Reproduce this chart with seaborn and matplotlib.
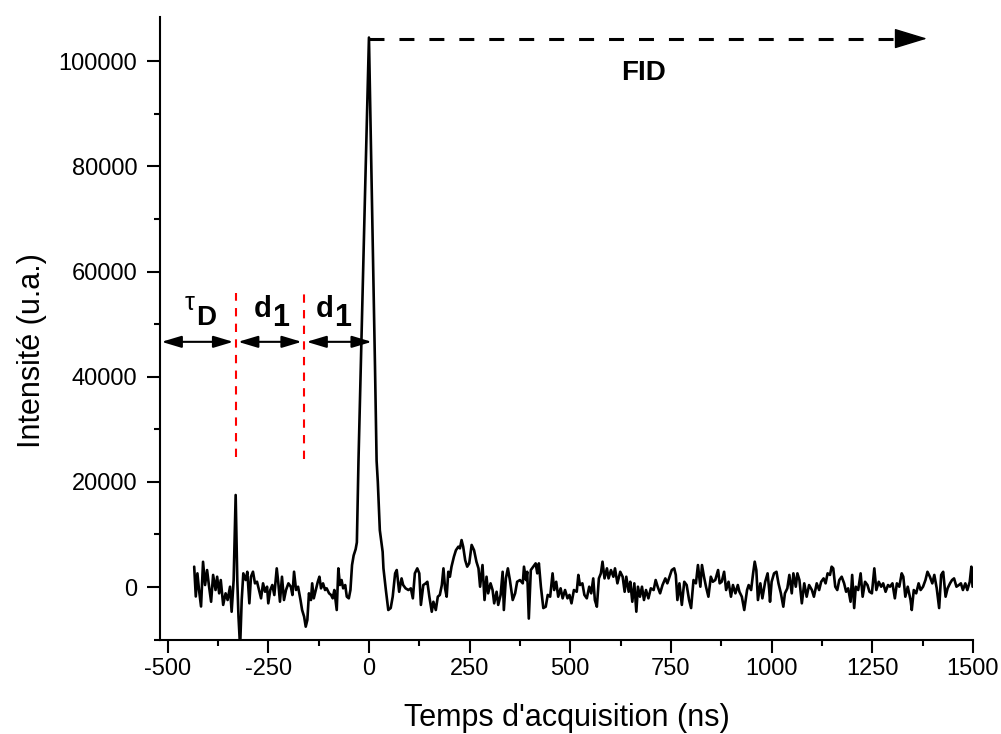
import matplotlib
matplotlib.use("Agg")
import matplotlib.pyplot as plt
from matplotlib.ticker import MultipleLocator
import numpy as np
import pandas as pd
import seaborn as sns

# ---------------- data ----------------
time_ns = [
    -434, -430, -426, -422, -417, -412, -407, -402, -397, -392, -387, -381, -377, -372, -368,
    -362, -356, -351, -345, -341, -336, -331, -327, -324, -320, -316, -312, -306, -302, -297,
    -293, -288, -283, -278, -273, -268, -263, -258, -253, -250, -245, -240, -235, -229, -225,
    -221, -216, -211, -206, -200, -194, -190, -186, -181, -176, -170, -166, -161, -157, -153,
    -149, -144, -141, -137, -132, -127, -123, -119, -114, -109, -105, -99, -94, -90, -86,
    -80, -76, -72, -68, -64, -59, -55, -50, -46, -42, -38, -33, -30, -26, -20,
    -15, -10, -5, 0, 5, 10, 15, 19, 22, 27,
    34, 36, 42, 48, 54, 59, 65, 69, 75, 81, 85, 91, 98, 104, 109,
    114, 120, 125, 129, 135, 141, 145, 150, 156, 160, 166, 171, 176, 181, 185,
    189, 193, 197, 201, 205, 211, 216, 222, 226, 230, 234, 239, 244, 249, 255,
    261, 267, 272, 276, 282, 287, 292, 296, 302, 307, 311, 317, 321, 327, 332,
    335, 340, 345, 350, 357, 363, 368, 375, 382, 385, 390, 393, 397, 402, 408,
    414, 418, 422, 427, 433, 439, 444, 450, 456, 460, 465, 470, 476, 481, 487,
    493, 498,
    503, 509, 516, 520, 524, 530, 535, 541, 547, 552, 557, 561, 566, 571, 576,
    580, 585, 591, 595, 601, 607, 611, 617, 624, 630, 635, 639, 645, 649, 654,
    659, 664, 668, 673, 678, 683, 688, 694, 700, 707, 712, 717, 723, 729, 736,
    741, 748, 752, 758, 762, 766, 771, 777, 783, 789, 795, 800, 806, 812, 817,
    823, 827, 832, 837, 843, 849, 854, 860, 867, 871, 876, 882, 887, 893, 899,
    904, 910, 916, 920, 926, 932, 939, 943, 949, 954, 958, 962, 966, 972, 977,
    984, 990, 994,
    996, 1000, 1006, 1012, 1017, 1023, 1029, 1033, 1039, 1044, 1050, 1054, 1060, 1064, 1069,
    1075, 1081, 1087, 1093, 1100, 1105, 1112, 1118, 1123, 1129, 1134, 1139, 1145, 1149, 1153,
    1158, 1163, 1168, 1174, 1180, 1185, 1190, 1196, 1200, 1205, 1209, 1215, 1221, 1226, 1232,
    1238, 1243, 1249, 1255, 1260, 1266, 1272, 1277, 1283, 1289, 1294, 1300, 1306, 1311, 1317,
    1323, 1327, 1332, 1338, 1345, 1348, 1353, 1359, 1365, 1370, 1376, 1382, 1387, 1393, 1399,
    1404, 1410, 1416, 1421, 1426, 1432, 1437, 1443, 1448, 1453, 1459, 1465, 1470, 1475, 1481,
    1486, 1492, 1496, 1499,
]
intensity = [
    3870, -1800, 2600, -570, -3700, 4800, 380, 3230, 60, -2800, 2300, -570, 1960, -1200, 1330,
    -3400, -1200, -2470, 60, -4700, 1330, 17500, 1330, -5600, -11500, -2470, 2600, 1330, 2900, -3100,
    1960, 2910, 700, 1010, -570, -2150, 700, -890, 60, -3100, -570, 380, -1520, 3550, 700,
    -2790, 1960, -2470, -570, 700, 60, -1520, 2910, -570, 60, -2470, -4370, -5640, -7540, -6270,
    -1200, -2470, 700, -2150, -570, 1010, 1960, -250, 700, -570, -250, -1200, -1520, -2150, -570,
    -4370, 3550, 380, 1330, -250, 380, -1840, -2150, -570, 4180, 6000, 7200, 8500, 24000, 43000,
    58500, 74000, 89500, 104500, 84000, 63000, 42000, 24000, 20000, 10800,
    6700, 3550, -570, -4370, -4000, -1840, 2600, 3230, -900, 1640, 380, -250, -570, -250, -2150,
    2600, 3550, 2600, -3400, 380, 700, 1000, -1840, -4700, -2800, -4370, -1840, -1500, 380, 3550,
    -250, -1840, 2900, 1960, 3870, 5770, 7000, 7670, 7350, 8930, 7670, 5100, 3870, 4500, 8000,
    7000, 4800, 3550, 60, 4180, -2470, 1960, -1200, 700, -570, -3100, -900, -3400, -1500, 2900,
    -4370, 1640, 3550, 1330, -2470, -1200, 1000, 1330, 700, 3870, 1330, 2900, -6000, 3230, 3870,
    4500, 2600, 4500, 60, -4000, -3740, -1500, -1840, 2600, -570, 1000, -1840, -250, -2150, -570,
    -2150, -1500,
    -3100, -570, -900, 2300, 380, 700, -1500, -2150, 60, -1200, 1640, -2470, -3740, 1640, 2600,
    4820, 1640, 3550, 1640, 3230, 1960, 3550, 700, 2900, 1960, -900, 1960, -900, 1000, -2800,
    700, -4690, 60, -1840, 60, -2470, -570, -2150, -250, -570, 1330, 60, -1200, 380, 1640,
    700, 2300, 3230, 3550, 2300, -2470, 700, -3400, 1000, 380, -2470, -4000, 1330, 700, 4180,
    60, 4180, 1960, 60, -1840, 1960, 1000, 1330, 3230, 700, 1000, 2900, -570, 1000, -1840,
    380, -1200, 380, -900, -1840, -4370, -570, 380, -570, 2600, 4820, 3230, -2470, 700, -2150,
    1000, 2600, -570,
    -2800, 1000, 2600, 2900, 700, -1200, -3740, -1200, -250, 2300, -1200, 2600, 60, 2600, 1330,
    -3100, 700, -1840, 380, -570, -1840, 700, -570, 1000, 1640, 700, 2600, 2300, 3870, 3550,
    60, -570, 1330, 1960, 700, -900, -250, -2800, 2300, -4000, 60, -570, 2600, -1840, 1000,
    380, -900, -1200, 3550, -570, 1000, 60, 700, -900, 380, 60, 700, -2150, 700, 60,
    2600, 1960, -1840, 60, -2470, -4370, -570, -1200, 700, -570, 60, 1330, 2900, 1960, 700,
    2300, -250, -4000, 2300, 2900, -1840, -250, 700, 1330, 1640, 60, 380, 700, -570, 700,
    -570, 1000, 3870, 60,
]

x_major_ticks = [-500, -250, 0, 250, 500, 750, 1000, 1250, 1500]
y_major_ticks = [0, 20000, 40000, 60000, 80000, 100000]

x_label = "Temps d'acquisition (ns)"
y_label = "Intensité (u.a.)"

# ---------------- style ----------------
sns.set_style("ticks")
plt.rcParams["font.family"] = ["Liberation Sans", "DejaVu Sans"]
plt.rcParams["axes.unicode_minus"] = False
plt.rcParams["text.color"] = "black"
plt.rcParams["axes.labelcolor"] = "black"
plt.rcParams["xtick.color"] = "black"
plt.rcParams["ytick.color"] = "black"

fig = plt.figure(figsize=(10.01, 7.34), dpi=100)
ax = fig.add_axes([0.1598, 0.1286, 0.8122, 0.8482])

df = pd.DataFrame({"t": time_ns, "I": intensity})
sns.lineplot(data=df, x="t", y="I", ax=ax, color="black", lw=1.9,
             estimator=None, sort=False)

ax.set_xlim(-519, 1500)
ax.set_ylim(-10000, 108400)

ax.set_xticks(x_major_ticks)
ax.set_yticks(y_major_ticks)
ax.xaxis.set_minor_locator(MultipleLocator(125))
ax.yaxis.set_minor_locator(MultipleLocator(10000))

for s in ["top", "right"]:
    ax.spines[s].set_visible(False)
for s in ["left", "bottom"]:
    ax.spines[s].set_linewidth(1.5)
    ax.spines[s].set_color("black")

ax.tick_params(axis="both", which="major", direction="out", length=9.4, width=1.5,
               labelsize=17, colors="black")
ax.tick_params(axis="both", which="minor", direction="out", length=4.5, width=1.5,
               colors="black")
ax.tick_params(axis="x", which="major", pad=4)
ax.tick_params(axis="y", which="major", pad=7)

ax.set_xlabel(x_label, fontsize=22, color="black")
ax.set_ylabel(y_label, fontsize=22, color="black")
ax.xaxis.set_label_coords(0.5, -0.102)
ax.yaxis.set_label_coords(-0.139, 0.4635)

# ---------------- annotations ----------------
red = "#FF0000"
ax.plot([-330, -330], [24770, 55950], color=red, lw=1.5, ls=(0, (4, 3.5)))
ax.plot([-161, -161], [24400, 55950], color=red, lw=1.5, ls=(0, (4, 3.5)))

arrow_y = 46630
for x0, x1 in [(-515, -337), (-325, -167), (-155, 7)]:
    ax.annotate("", xy=(x1, arrow_y), xytext=(x0, arrow_y),
                arrowprops=dict(arrowstyle="<|-|>,head_length=0.6,head_width=0.18",
                                color="black", lw=1.5, shrinkA=0, shrinkB=0,
                                mutation_scale=20))

fid_y = 104300
ax.plot([0, 1312], [fid_y, fid_y], color="black", lw=2.2, ls=(0, (4.9, 4.9)))
ax.annotate("", xy=(1386, fid_y), xytext=(1308, fid_y),
            arrowprops=dict(arrowstyle="-|>,head_length=1.05,head_width=0.32",
                            color="black", lw=1.0, shrinkA=0, shrinkB=0,
                            mutation_scale=20))

ax.text(683, 97700, "FID", fontsize=20, fontweight="bold", ha="center", va="center")
ax.text(-445, 54000, "τ", fontsize=18, ha="center", va="center")
ax.text(-405, 51230, "D", fontsize=20, fontweight="bold", ha="center", va="center")
ax.text(-263, 52850, "d", fontsize=21, fontweight="bold", ha="center", va="center")
ax.text(-219, 51140, "1", fontsize=22, fontweight="bold", ha="center", va="center")
ax.text(-109, 52850, "d", fontsize=21, fontweight="bold", ha="center", va="center")
ax.text(-66, 51140, "1", fontsize=22, fontweight="bold", ha="center", va="center")

fig.savefig("out.png", dpi=100)
